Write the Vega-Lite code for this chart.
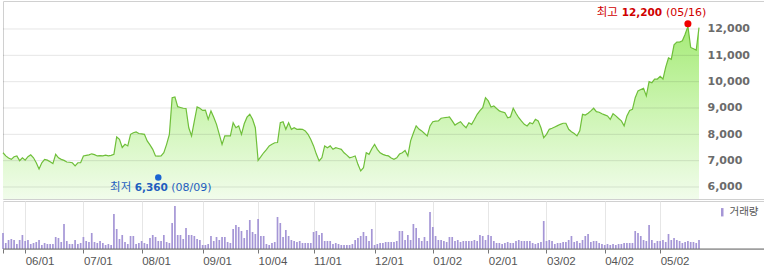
{
"$schema": "https://vega.github.io/schema/vega-lite/v6.json",
"padding": 0,
"background": "white",
"spacing": 0,
"config": {"view": {"stroke": "#d0d0d0", "strokeWidth": 1}},
"datasets": {
"s": [
{"d":"2011-05-20","p":7300,"v":16},{"d":"2011-05-23","p":7180,"v":6},{"d":"2011-05-24","p":7100,"v":9},{"d":"2011-05-25","p":7050,"v":10},{"d":"2011-05-26","p":7150,"v":9},{"d":"2011-05-27","p":7180,"v":5},{"d":"2011-05-30","p":7000,"v":9},{"d":"2011-05-31","p":7110,"v":14},
{"d":"2011-06-01","p":7020,"v":8},{"d":"2011-06-02","p":7150,"v":9},{"d":"2011-06-03","p":7220,"v":5},{"d":"2011-06-07","p":7110,"v":6},{"d":"2011-06-08","p":6920,"v":7},{"d":"2011-06-09","p":6680,"v":9},{"d":"2011-06-10","p":6920,"v":4},{"d":"2011-06-13","p":7050,"v":6},{"d":"2011-06-14","p":7020,"v":5},{"d":"2011-06-15","p":6960,"v":5},{"d":"2011-06-16","p":6890,"v":5},{"d":"2011-06-17","p":7240,"v":12},{"d":"2011-06-20","p":7110,"v":11},{"d":"2011-06-21","p":7050,"v":7},{"d":"2011-06-22","p":7010,"v":25},{"d":"2011-06-23","p":6950,"v":8},{"d":"2011-06-24","p":6940,"v":5},{"d":"2011-06-27","p":6920,"v":5},{"d":"2011-06-28","p":6800,"v":9},{"d":"2011-06-29","p":6920,"v":5},{"d":"2011-06-30","p":6920,"v":6},
{"d":"2011-07-01","p":7180,"v":12},{"d":"2011-07-04","p":7200,"v":8},{"d":"2011-07-05","p":7220,"v":7},{"d":"2011-07-06","p":7260,"v":16},{"d":"2011-07-07","p":7230,"v":7},{"d":"2011-07-08","p":7180,"v":6},{"d":"2011-07-11","p":7190,"v":8},{"d":"2011-07-12","p":7180,"v":6},{"d":"2011-07-13","p":7210,"v":4},{"d":"2011-07-14","p":7180,"v":5},{"d":"2011-07-15","p":7200,"v":4},{"d":"2011-07-18","p":7240,"v":35},{"d":"2011-07-19","p":7900,"v":20},{"d":"2011-07-20","p":7810,"v":10},{"d":"2011-07-21","p":7500,"v":14},{"d":"2011-07-22","p":7620,"v":7},{"d":"2011-07-25","p":7560,"v":5},{"d":"2011-07-26","p":8000,"v":13},{"d":"2011-07-27","p":8060,"v":13},{"d":"2011-07-28","p":8090,"v":5},{"d":"2011-07-29","p":8030,"v":6},
{"d":"2011-08-01","p":8020,"v":8},{"d":"2011-08-02","p":8000,"v":6},{"d":"2011-08-03","p":7750,"v":5},{"d":"2011-08-04","p":7600,"v":11},{"d":"2011-08-05","p":7430,"v":14},{"d":"2011-08-08","p":7180,"v":12},{"d":"2011-08-09","p":7170,"v":8},{"d":"2011-08-10","p":7180,"v":8},{"d":"2011-08-11","p":7300,"v":14},{"d":"2011-08-12","p":7620,"v":7},{"d":"2011-08-16","p":8000,"v":6},{"d":"2011-08-17","p":9390,"v":26},{"d":"2011-08-18","p":9420,"v":43},{"d":"2011-08-19","p":9050,"v":14},{"d":"2011-08-22","p":9020,"v":14},{"d":"2011-08-23","p":8990,"v":10},{"d":"2011-08-24","p":8980,"v":21},{"d":"2011-08-25","p":8250,"v":14},{"d":"2011-08-26","p":7940,"v":14},{"d":"2011-08-29","p":8500,"v":13},{"d":"2011-08-30","p":9040,"v":10},{"d":"2011-08-31","p":8990,"v":9},
{"d":"2011-09-01","p":8910,"v":4},{"d":"2011-09-02","p":8920,"v":4},{"d":"2011-09-05","p":8570,"v":5},{"d":"2011-09-06","p":8890,"v":13},{"d":"2011-09-07","p":8650,"v":8},{"d":"2011-09-08","p":8380,"v":12},{"d":"2011-09-09","p":8000,"v":9},{"d":"2011-09-14","p":7620,"v":12},{"d":"2011-09-15","p":7940,"v":12},{"d":"2011-09-16","p":7940,"v":7},{"d":"2011-09-19","p":7940,"v":6},{"d":"2011-09-20","p":8440,"v":20},{"d":"2011-09-21","p":8250,"v":24},{"d":"2011-09-22","p":8320,"v":22},{"d":"2011-09-23","p":8000,"v":18},{"d":"2011-09-26","p":8400,"v":11},{"d":"2011-09-27","p":8650,"v":19},{"d":"2011-09-28","p":8760,"v":29},{"d":"2011-09-29","p":8570,"v":17},{"d":"2011-09-30","p":8250,"v":15},
{"d":"2011-10-04","p":7010,"v":30},{"d":"2011-10-05","p":7150,"v":13},{"d":"2011-10-06","p":7300,"v":13},{"d":"2011-10-07","p":7420,"v":5},{"d":"2011-10-10","p":7560,"v":4},{"d":"2011-10-11","p":7620,"v":6},{"d":"2011-10-12","p":7680,"v":7},{"d":"2011-10-13","p":7690,"v":32},{"d":"2011-10-14","p":8440,"v":26},{"d":"2011-10-17","p":8480,"v":12},{"d":"2011-10-18","p":8190,"v":19},{"d":"2011-10-19","p":8440,"v":13},{"d":"2011-10-20","p":8190,"v":9},{"d":"2011-10-21","p":8250,"v":8},{"d":"2011-10-24","p":8190,"v":7},{"d":"2011-10-25","p":8200,"v":8},{"d":"2011-10-26","p":8190,"v":6},{"d":"2011-10-27","p":8130,"v":6},{"d":"2011-10-28","p":8000,"v":6},{"d":"2011-10-31","p":7800,"v":6},
{"d":"2011-11-01","p":7560,"v":17},{"d":"2011-11-02","p":7250,"v":18},{"d":"2011-11-03","p":6990,"v":14},{"d":"2011-11-04","p":7110,"v":16},{"d":"2011-11-07","p":7560,"v":8},{"d":"2011-11-08","p":7490,"v":8},{"d":"2011-11-09","p":7560,"v":8},{"d":"2011-11-10","p":7430,"v":5},{"d":"2011-11-11","p":7490,"v":6},{"d":"2011-11-14","p":7460,"v":5},{"d":"2011-11-15","p":7430,"v":4},{"d":"2011-11-16","p":7300,"v":4},{"d":"2011-11-17","p":7210,"v":4},{"d":"2011-11-18","p":7110,"v":4},{"d":"2011-11-21","p":7140,"v":5},{"d":"2011-11-22","p":7180,"v":9},{"d":"2011-11-23","p":6860,"v":11},{"d":"2011-11-24","p":6610,"v":13},{"d":"2011-11-25","p":6730,"v":17},{"d":"2011-11-28","p":7300,"v":13},{"d":"2011-11-29","p":7240,"v":8},{"d":"2011-11-30","p":7450,"v":20},
{"d":"2011-12-01","p":7620,"v":4},{"d":"2011-12-02","p":7430,"v":5},{"d":"2011-12-05","p":7300,"v":6},{"d":"2011-12-06","p":7240,"v":6},{"d":"2011-12-07","p":7200,"v":7},{"d":"2011-12-08","p":7180,"v":7},{"d":"2011-12-09","p":7100,"v":7},{"d":"2011-12-12","p":7050,"v":7},{"d":"2011-12-13","p":7110,"v":8},{"d":"2011-12-14","p":7250,"v":18},{"d":"2011-12-15","p":7300,"v":18},{"d":"2011-12-16","p":7390,"v":9},{"d":"2011-12-19","p":7180,"v":14},{"d":"2011-12-20","p":7750,"v":9},{"d":"2011-12-21","p":8050,"v":25},{"d":"2011-12-22","p":8320,"v":21},{"d":"2011-12-23","p":8200,"v":11},{"d":"2011-12-26","p":8130,"v":8},{"d":"2011-12-27","p":8030,"v":12},{"d":"2011-12-28","p":7940,"v":8},{"d":"2011-12-29","p":8320,"v":37},
{"d":"2012-01-02","p":8480,"v":22},{"d":"2012-01-03","p":8500,"v":13},{"d":"2012-01-04","p":8510,"v":9},{"d":"2012-01-05","p":8610,"v":9},{"d":"2012-01-06","p":8630,"v":8},{"d":"2012-01-09","p":8640,"v":7},{"d":"2012-01-10","p":8660,"v":12},{"d":"2012-01-11","p":8510,"v":12},{"d":"2012-01-12","p":8350,"v":8},{"d":"2012-01-13","p":8420,"v":9},{"d":"2012-01-16","p":8480,"v":7},{"d":"2012-01-17","p":8350,"v":8},{"d":"2012-01-18","p":8250,"v":8},{"d":"2012-01-19","p":8440,"v":8},{"d":"2012-01-20","p":8380,"v":8},{"d":"2012-01-25","p":8560,"v":9},{"d":"2012-01-26","p":8760,"v":8},{"d":"2012-01-27","p":8900,"v":14},{"d":"2012-01-30","p":9010,"v":13},{"d":"2012-01-31","p":9390,"v":9},
{"d":"2012-02-01","p":9270,"v":14},{"d":"2012-02-02","p":9040,"v":13},{"d":"2012-02-03","p":9080,"v":8},{"d":"2012-02-06","p":8980,"v":6},{"d":"2012-02-07","p":8890,"v":6},{"d":"2012-02-08","p":8850,"v":5},{"d":"2012-02-09","p":8820,"v":6},{"d":"2012-02-10","p":8630,"v":7},{"d":"2012-02-13","p":8660,"v":6},{"d":"2012-02-14","p":8990,"v":6},{"d":"2012-02-15","p":8800,"v":8},{"d":"2012-02-16","p":8630,"v":9},{"d":"2012-02-17","p":8500,"v":8},{"d":"2012-02-20","p":8380,"v":8},{"d":"2012-02-21","p":8320,"v":8},{"d":"2012-02-22","p":8440,"v":8},{"d":"2012-02-23","p":8400,"v":6},{"d":"2012-02-24","p":8570,"v":5},{"d":"2012-02-27","p":8510,"v":6},{"d":"2012-02-28","p":8250,"v":7},{"d":"2012-02-29","p":7870,"v":28},
{"d":"2012-03-02","p":8000,"v":8},{"d":"2012-03-05","p":8190,"v":9},{"d":"2012-03-06","p":8230,"v":8},{"d":"2012-03-07","p":8280,"v":5},{"d":"2012-03-08","p":8330,"v":6},{"d":"2012-03-09","p":8380,"v":6},{"d":"2012-03-12","p":8420,"v":7},{"d":"2012-03-13","p":8420,"v":7},{"d":"2012-03-14","p":8190,"v":9},{"d":"2012-03-15","p":8100,"v":13},{"d":"2012-03-16","p":8030,"v":7},{"d":"2012-03-19","p":7940,"v":8},{"d":"2012-03-20","p":8130,"v":6},{"d":"2012-03-21","p":8760,"v":9},{"d":"2012-03-22","p":8730,"v":13},{"d":"2012-03-23","p":8800,"v":15},{"d":"2012-03-26","p":8890,"v":7},{"d":"2012-03-27","p":8990,"v":8},{"d":"2012-03-28","p":8860,"v":8},{"d":"2012-03-29","p":8840,"v":6},{"d":"2012-03-30","p":8780,"v":5},
{"d":"2012-04-02","p":8740,"v":4},{"d":"2012-04-03","p":8700,"v":5},{"d":"2012-04-04","p":8570,"v":4},{"d":"2012-04-05","p":8780,"v":5},{"d":"2012-04-06","p":8700,"v":4},{"d":"2012-04-09","p":8600,"v":5},{"d":"2012-04-10","p":8510,"v":5},{"d":"2012-04-12","p":8320,"v":6},{"d":"2012-04-13","p":8700,"v":6},{"d":"2012-04-16","p":8910,"v":6},{"d":"2012-04-17","p":8950,"v":6},{"d":"2012-04-18","p":9390,"v":18},{"d":"2012-04-19","p":9650,"v":16},{"d":"2012-04-20","p":9700,"v":13},{"d":"2012-04-23","p":9750,"v":9},{"d":"2012-04-24","p":9460,"v":8},{"d":"2012-04-25","p":10000,"v":24},{"d":"2012-04-26","p":9960,"v":9},{"d":"2012-04-27","p":10100,"v":6},{"d":"2012-04-30","p":10100,"v":8},
{"d":"2012-05-02","p":10200,"v":8},{"d":"2012-05-03","p":10100,"v":9},{"d":"2012-05-04","p":10550,"v":7},{"d":"2012-05-07","p":10900,"v":15},{"d":"2012-05-08","p":10850,"v":9},{"d":"2012-05-09","p":11400,"v":11},{"d":"2012-05-10","p":11500,"v":9},{"d":"2012-05-11","p":11500,"v":8},{"d":"2012-05-14","p":11550,"v":6},{"d":"2012-05-15","p":11800,"v":7},{"d":"2012-05-16","p":12100,"v":8},{"d":"2012-05-17","p":11300,"v":7},{"d":"2012-05-18","p":11250,"v":7},{"d":"2012-05-21","p":11200,"v":6},{"d":"2012-05-22","p":12050,"v":9}
],
"ticks": [{"d":"2011-05-20"},{"d":"2011-06-01"},{"d":"2011-07-01"},{"d":"2011-08-01"},{"d":"2011-09-01"},{"d":"2011-10-04"},{"d":"2011-11-01"},{"d":"2011-12-01"},{"d":"2012-01-02"},{"d":"2012-02-01"},{"d":"2012-03-02"},{"d":"2012-04-02"},{"d":"2012-05-02"}],
"grid": [{"g":6000},{"g":7000},{"g":8000},{"g":9000},{"g":10000},{"g":11000},{"g":12000}]
},
"vconcat": [
{
"width": 762,
"height": 198,
"encoding": {
  "x": {"field": "d", "type": "ordinal", "scale": {"type": "point", "padding": 0, "range": [0, 696]}, "axis": null},
  "y": {"field": "p", "type": "quantitative", "scale": {"domain": [5544, 13063], "nice": false, "zero": false},
        "axis": {"orient": "right", "values": [6000, 7000, 8000, 9000, 10000, 11000, 12000], "format": ",.0f", "grid": false, "domain": false, "ticks": false, "tickSize": 0, "labelPadding": -58, "labelAlign": "left", "labelFont": "DejaVu Sans", "labelFontWeight": "bold", "labelFontSize": 11, "labelColor": "#6b6b6b", "title": null, "zindex": 1}}
},
"layer": [
{"data": {"name": "s"},
 "mark": {"type": "area", "line": false, "color": {"gradient": "linear", "x1": 0, "y1": 0, "x2": 0, "y2": 1, "stops": [{"offset": 0, "color": "#a6eb78"}, {"offset": 0.5, "color": "#cdf5b3"}, {"offset": 1, "color": "#f1fceb"}]}},
 "encoding": {"y2": {"datum": 5544}}},
{"data": {"name": "ticks"},
 "mark": {"type": "rule", "color": "#000000", "opacity": 0.1, "strokeWidth": 1},
 "encoding": {
  "y": {"datum": 12380, "type": "quantitative"},
  "y2": {"datum": 5544}
 }},
{"data": {"name": "grid"},
 "mark": {"type": "rule", "color": "#000000", "opacity": 0.1, "strokeWidth": 1},
 "encoding": {
  "y": {"field": "g", "type": "quantitative"},
  "x": {"datum": "2011-05-20", "type": "ordinal"},
  "x2": {"datum": "2012-05-22"}
 }},
{"data": {"name": "s"},
 "mark": {"type": "line", "color": "#6fbf3a", "strokeWidth": 1.2}},
{"data": {"values": [{"d": "2012-05-16", "p": 12200}]},
 "layer": [
  {"mark": {"type": "point", "filled": true, "size": 50, "color": "#f00000", "opacity": 1}},
  {"mark": {"type": "text", "text": "최고", "align": "right", "baseline": "middle", "dx": -70, "dy": -11, "font": "Noto Sans CJK KR", "fontSize": 11.5, "color": "#d00000"}},
  {"mark": {"type": "text", "text": "12,200", "align": "center", "baseline": "middle", "dx": -46, "dy": -11, "font": "DejaVu Sans", "fontWeight": "bold", "fontSize": 10.5, "color": "#d00000"}},
  {"mark": {"type": "text", "text": "(05/16)", "align": "left", "baseline": "middle", "dx": -22, "dy": -11, "font": "DejaVu Sans", "fontSize": 11, "color": "#d00000"}}
 ]},
{"data": {"values": [{"d": "2011-08-09", "p": 6360}]},
 "layer": [
  {"mark": {"type": "point", "filled": true, "size": 42, "color": "#1a64d2", "opacity": 1}},
  {"mark": {"type": "text", "text": "최저", "align": "right", "baseline": "middle", "dx": -27, "dy": 10, "font": "Noto Sans CJK KR", "fontSize": 11.5, "color": "#1f5fbf"}},
  {"mark": {"type": "text", "text": "6,360", "align": "center", "baseline": "middle", "dx": -7, "dy": 10, "font": "DejaVu Sans", "fontWeight": "bold", "fontSize": 10.5, "color": "#1f5fbf"}},
  {"mark": {"type": "text", "text": "(08/09)", "align": "left", "baseline": "middle", "dx": 13, "dy": 10, "font": "DejaVu Sans", "fontSize": 11, "color": "#1f5fbf"}}
 ]},
{"data": {"values": [{}]},
 "mark": {"type": "rule", "color": "#7a7a7a", "strokeWidth": 1},
 "encoding": {"x": null, "y": {"datum": 5544, "type": "quantitative"}}}
]
},
{
"width": 762,
"height": 48,
"layer": [
{"data": {"name": "s"},
 "mark": {"type": "rule", "strokeWidth": 1.7},
 "encoding": {
  "x": {"field": "d", "type": "ordinal", "scale": {"type": "point", "padding": 0, "range": [0, 696]},
        "axis": {"values": ["2011-05-20","2011-06-01","2011-07-01","2011-08-01","2011-09-01","2011-10-04","2011-11-01","2011-12-01","2012-01-02","2012-02-01","2012-03-02","2012-04-02","2012-05-02"],
                 "labelExpr": "datum.value == '2011-05-20' ? '' : substring(datum.value, 5, 7) + '/' + substring(datum.value, 8, 10)",
                 "labelAlign": "left", "labelAngle": 0, "labelFont": "Liberation Sans", "labelFontSize": 11.5, "labelColor": "#555555", "labelPadding": 2, "labelOverlap": false,
                 "tickColor": "#777777", "tickSize": 4, "domain": false, "grid": true, "gridColor": "#e6e6e6", "title": null}},
  "y": {"field": "v", "type": "quantitative", "scale": {"domain": [0, 48], "nice": false}, "axis": null},
  "y2": {"datum": 0},
  "color": {"datum": "거래량", "type": "nominal", "scale": {"range": ["#a596d6"]},
            "legend": {"orient": "top-right", "offset": 6, "title": null, "padding": 0, "symbolType": "M-0.3,-1H0.3V1H-0.3Z", "symbolSize": 70, "symbolStrokeWidth": 0, "symbolFillColor": "#a596d6", "labelOffset": 2, "labelFont": "Noto Sans CJK KR", "labelFontSize": 10.5, "labelColor": "#555555"}}
 }},
{"data": {"values": [{}]},
 "mark": {"type": "rule", "color": "#6e6e6e", "strokeWidth": 1},
 "encoding": {"y": {"datum": 0, "type": "quantitative", "scale": {"domain": [0, 48], "nice": false}, "axis": null}}}
]
}
],
"resolve": {"scale": {"y": "independent", "color": "independent"}, "legend": {"color": "independent"}, "axis": {"y": "independent"}}
}
